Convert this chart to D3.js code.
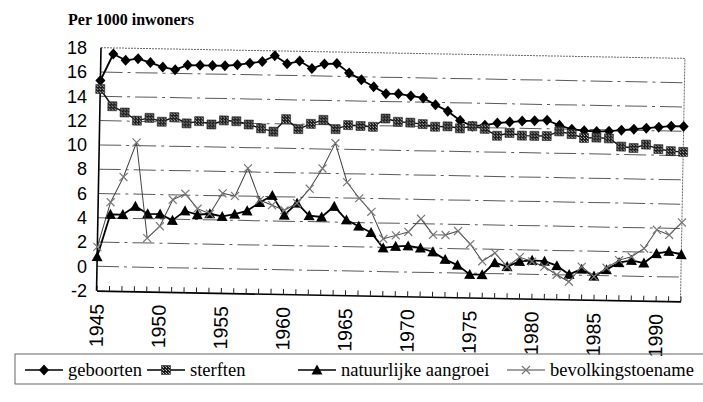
<!DOCTYPE html>
<html>
<head>
<meta charset="utf-8">
<script src="https://cdn.jsdelivr.net/npm/d3@7"></script>
<style>
  body { margin: 0; background: #fff; }
  svg { display: block; }
  .ylab text { font-family: "Liberation Sans", Arial, sans-serif; font-size: 18px; fill: #000; }
  .xlab text { font-family: "Liberation Sans", Arial, sans-serif; font-size: 19.5px; fill: #000; }
  .legend text { font-family: "Liberation Serif", "Times New Roman", serif; font-size: 18.5px; fill: #000; }
  .title { font-family: "Liberation Serif", "Times New Roman", serif; font-size: 16px; font-weight: bold; }
</style>
</head>
<body>
<svg id="chart" width="703" height="402"></svg>
<script>
// years on the category axis
var years = [1945, 1946, 1947, 1948, 1949, 1950, 1951, 1952, 1953, 1954, 1955, 1956,
             1957, 1958, 1959, 1960, 1961, 1962, 1963, 1964, 1965, 1966, 1967, 1968,
             1969, 1970, 1971, 1972, 1973, 1974, 1975, 1976, 1977, 1978, 1979, 1980,
             1981, 1982, 1983, 1984, 1985, 1986, 1987, 1988, 1989, 1990, 1991, 1992];

// per 1000 inwoners
var geboorten = [15.3, 17.5, 17.0, 17.15, 16.85, 16.5, 16.3, 16.7, 16.7, 16.7, 16.7, 16.8,
                 16.95, 17.1, 17.6, 16.95, 17.2, 16.6, 17.0, 17.05, 16.3, 15.75, 15.2, 14.65,
                 14.65, 14.5, 14.35, 13.8, 13.3, 12.55, 12.1, 12.2, 12.4, 12.5, 12.6, 12.65,
                 12.7, 12.3, 12.0, 11.9, 11.85, 11.9, 12.0, 12.1, 12.2, 12.3, 12.4, 12.4];

var sterften = [14.6, 13.2, 12.7, 12.05, 12.3, 12.0, 12.4, 11.9, 12.1, 11.85, 12.2, 12.15,
                11.9, 11.6, 11.35, 12.4, 11.6, 12.05, 12.4, 11.65, 12.0, 11.95, 11.9, 12.6,
                12.35, 12.3, 12.2, 12.0, 12.05, 11.9, 12.1, 11.9, 11.35, 11.6, 11.4, 11.4,
                11.4, 11.8, 11.6, 11.3, 11.35, 11.3, 10.65, 10.55, 10.85, 10.5, 10.35, 10.3];

var aangroei = [0.8, 4.3, 4.3, 5.0, 4.4, 4.4, 3.9, 4.7, 4.4, 4.5, 4.3, 4.5,
                4.8, 5.5, 6.1, 4.5, 5.5, 4.5, 4.4, 5.3, 4.2, 3.7, 3.2, 1.95,
                2.1, 2.15, 2.0, 1.7, 1.1, 0.65, -0.1, -0.1, 0.9, 0.6, 1.05, 1.15,
                1.1, 0.75, 0.05, 0.5, -0.05, 0.5, 1.1, 1.3, 1.1, 1.9, 2.1, 1.85];

var toename = [1.6, 5.3, 7.4, 10.25, 2.4, 3.4, 5.6, 6.1, 4.9, 4.5, 6.2, 6.0,
               8.3, 5.7, 5.3, 4.9, 5.5, 6.7, 8.4, 10.5, 7.3, 6.0, 4.9, 2.7,
               3.0, 3.3, 4.4, 3.1, 3.1, 3.45, 2.4, 1.0, 1.7, 0.6, 1.4, 1.05,
               0.65, 0.0, -0.55, 0.7, -0.1, 0.65, 1.3, 1.6, 2.3, 3.85, 3.45, 4.5];

var yTicks = [18, 16, 14, 12, 10, 8, 6, 4, 2, 0, -2];
var xLabelYears = [1945, 1950, 1955, 1960, 1965, 1970, 1975, 1980, 1985, 1990];
var seriesNames = ["geboorten", "sterften", "natuurlijke aangroei", "bevolkingstoename"];

var svg = d3.select("#chart");

// the scanned plot sits about one degree off level
var L = 101, T = 47.7, W = 584, H = 243, tilt = 1.05;

var x = d3.scalePoint().domain(years).range([0, W]);
var y = d3.scaleLinear().domain([-2, 18]).range([H, 0]);

// dithered fill for the sterften squares
var pat = svg.append("defs").append("pattern")
    .attr("id", "dither").attr("width", 3).attr("height", 3)
    .attr("patternUnits", "userSpaceOnUse");
pat.append("rect").attr("width", 3).attr("height", 3).attr("fill", "#1c1c1c");
pat.append("rect").attr("x", 0).attr("y", 0).attr("width", 1).attr("height", 1).attr("fill", "#c8c8c8");
pat.append("rect").attr("x", 2).attr("y", 2).attr("width", 1).attr("height", 1).attr("fill", "#9a9a9a");

svg.append("text").attr("class", "title")
    .attr("x", 68).attr("y", 25)
    .text("Per 1000 inwoners");

// y labels stay level
var yLab = d3.scaleLinear().domain([-2, 18]).range([T + H, T]);
svg.append("g").attr("class", "ylab")
    .attr("transform", "translate(87,0)")
    .call(d3.axisLeft(yLab).tickValues(yTicks).tickSize(0).tickPadding(0)
            .tickFormat(function(d) { return String(d); }))
    .call(function(g) { g.select(".domain").remove(); });

var plot = svg.append("g")
    .attr("transform", "translate(" + L + "," + T + ") rotate(" + tilt + ")");

// gridlines
plot.append("g").selectAll("line")
    .data(yTicks.filter(function(v) { return v > -2 && v < 18; }))
    .join("line")
    .attr("x1", 0).attr("x2", W)
    .attr("y1", function(d) { return y(d); })
    .attr("y2", function(d) { return y(d); })
    .attr("stroke", "#5a5a5a")
    .attr("stroke-width", 1)
    .attr("stroke-dasharray", "22 5 3 5");

// dotted top and right border
plot.append("path")
    .attr("d", "M0,0H" + W + "V" + H)
    .attr("fill", "none")
    .attr("stroke", "#6a6a6a")
    .attr("stroke-dasharray", "2 1");

// bottom axis, year ticks pointing up
plot.append("g")
    .attr("transform", "translate(0," + H + ")")
    .call(d3.axisBottom(x).tickSizeInner(-5).tickSizeOuter(0).tickFormat(""))
    .call(function(g) {
      g.select(".domain").attr("stroke", "#000").attr("stroke-width", 1.6);
      g.selectAll(".tick line").attr("stroke", "#222");
    });

plot.append("g").attr("class", "xlab")
    .attr("transform", "translate(0," + H + ")")
    .call(d3.axisBottom(x).tickValues(xLabelYears).tickSize(0).tickPadding(0))
    .call(function(g) { g.select(".domain").remove(); })
    .selectAll("text")
    .attr("transform", "rotate(-90)")
    .attr("text-anchor", "end")
    .attr("x", -13).attr("y", 0)
    .attr("dy", "0.35em");

plot.append("line")
    .attr("x1", 0).attr("x2", 0).attr("y1", 0).attr("y2", H)
    .attr("stroke", "#000").attr("stroke-width", 1.6);

// marker drawing
var diamond = "M0,-5.5L5,0L0,5.5L-5,0Z";
var triangle = "M0,-5.5L5.5,4.5L-5.5,4.5Z";
var cross = "M-4,-4L4,4M-4,4L4,-4";

function drawMarker(sel, kind) {
  if (kind === 0) {
    sel.append("path").attr("d", diamond).attr("fill", "#000");
  } else if (kind === 1) {
    sel.append("rect").attr("x", -4.5).attr("y", -4.5).attr("width", 9).attr("height", 9)
        .attr("fill", "url(#dither)").attr("stroke", "#333").attr("stroke-width", 0.6);
  } else if (kind === 2) {
    sel.append("path").attr("d", triangle).attr("fill", "#000");
  } else {
    sel.append("path").attr("d", cross).attr("fill", "none")
        .attr("stroke", "#777").attr("stroke-width", 1.2);
  }
}

var allSeries = [geboorten, sterften, aangroei, toename];
var lineColor = ["#000", "#111", "#000", "#444"];
var lineWidth = [1.8, 1.4, 1.8, 1];

var line = d3.line()
    .x(function(d, i) { return x(years[i]); })
    .y(function(d) { return y(d); });

allSeries.forEach(function(vals, s) {
  plot.append("path")
      .datum(vals)
      .attr("d", line)
      .attr("fill", "none")
      .attr("stroke", lineColor[s])
      .attr("stroke-width", lineWidth[s])
      .attr("stroke-linejoin", "round");

  plot.append("g").selectAll("g")
      .data(vals)
      .join("g")
      .attr("transform", function(d, i) { return "translate(" + x(years[i]) + "," + y(d) + ")"; })
      .each(function() { drawMarker(d3.select(this), s); });
});

// legend
var legend = svg.append("g").attr("class", "legend");
legend.append("rect")
    .attr("x", 15).attr("y", 354).attr("width", 700).attr("height", 30)
    .attr("fill", "none").attr("stroke", "#666").attr("stroke-width", 1);

var legendX = [25, 147, 298, 507];
seriesNames.forEach(function(name, s) {
  var item = legend.append("g").attr("transform", "translate(" + legendX[s] + ",370)");
  item.append("line").attr("x1", 0).attr("x2", 38)
      .attr("stroke", s === 3 ? "#444" : "#000")
      .attr("stroke-width", s === 3 ? 1 : 1.6);
  drawMarker(item.append("g").attr("transform", "translate(19,0)"), s);
  item.append("text").attr("x", 43).attr("y", 6).text(name);
});
</script>
</body>
</html>
